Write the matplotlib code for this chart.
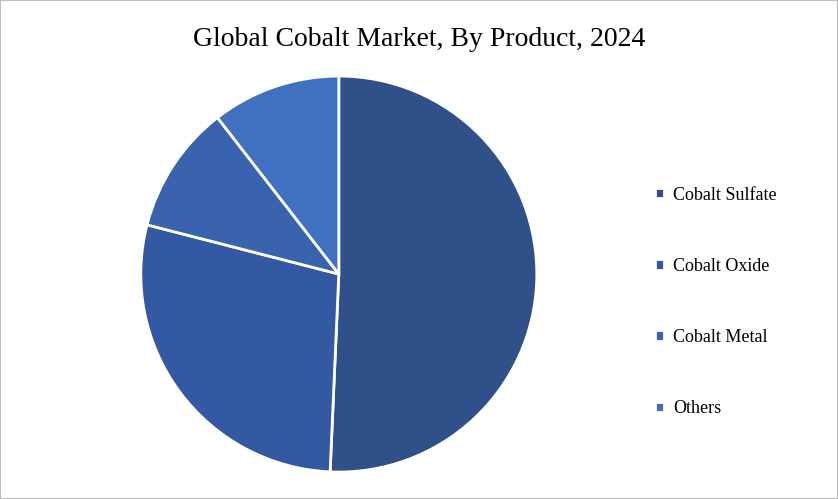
import matplotlib.pyplot as plt
from matplotlib.patches import Rectangle

products = ["Cobalt Sulfate", "Cobalt Oxide", "Cobalt Metal", "Others"]
shares = [50.7, 28.3, 10.5, 10.5]
colors = ["#2F5089", "#3459A3", "#3963AD", "#4270C0"]

plt.rcParams["font.family"] = "Liberation Serif"
fig = plt.figure(figsize=(8.38, 4.99), dpi=100)
fig.patches.append(Rectangle((0, 0), 1, 1, transform=fig.transFigure,
                             fill=False, edgecolor="#BFBFBF", lw=1.5))

ax = fig.add_axes([0.168, 0.054, 0.4726, 0.7936])
wedges, _ = ax.pie(shares, colors=colors, startangle=90, counterclock=False,
                   wedgeprops=dict(edgecolor="white", linewidth=2))
ax.set_xlim(-1, 1)
ax.set_ylim(-1, 1)
ax.set_aspect("equal")

fig.text(0.5, 0.92, "Global Cobalt Market, By Product, 2024",
         ha="center", va="center", fontsize=20)

fig.legend(wedges, products, loc="center left", bbox_to_anchor=(0.762, 0.395),
           frameon=False, fontsize=13, handlelength=0.5, handleheight=0.5,
           handletextpad=0.5, labelspacing=3.0)

fig.savefig("out.png", dpi=100)
